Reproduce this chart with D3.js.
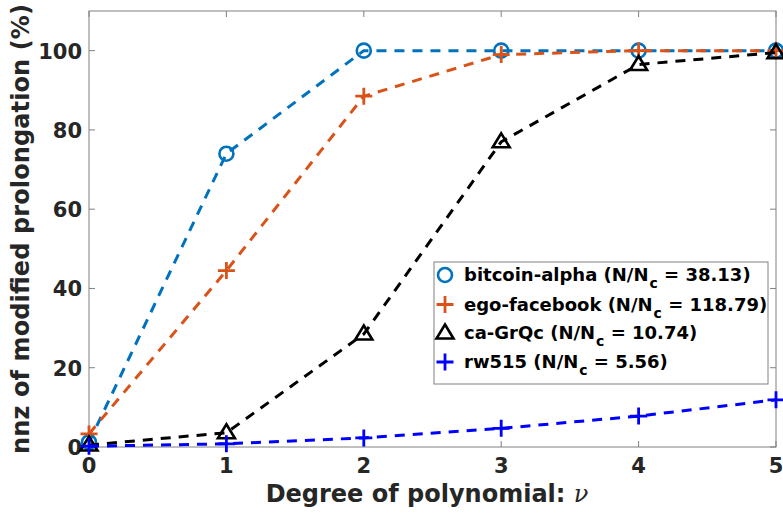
<!DOCTYPE html>
<html><head><meta charset="utf-8">
<script src="https://cdn.jsdelivr.net/npm/d3@7"></script>
<style>body{margin:0;background:#fff}svg{display:block}</style>
</head><body>
<svg id="c" width="783" height="513"></svg>
<script>
const degrees = [0, 1, 2, 3, 4, 5];
const bitcoinAlpha = [1.2, 74, 100, 100, 100, 100];
const egoFacebook = [3.3, 44.5, 88.5, 99, 100, 100];
const caGrQc = [0.5, 3.6, 28.5, 77, 96.5, 99.5];
const rw515 = [0.2, 0.8, 2.3, 4.7, 7.8, 11.9];
const xTicks = [0, 1, 2, 3, 4, 5];
const yTicks = [0, 20, 40, 60, 80, 100];
const seriesNames = ["bitcoin-alpha", "ego-facebook", "ca-GrQc", "rw515"];
const seriesRatios = ["38.13", "118.79", "10.74", "5.56"];

const series = [
  {name: seriesNames[0], ratio: seriesRatios[0], vals: bitcoinAlpha, color: "#0072BD", marker: "circle"},
  {name: seriesNames[1], ratio: seriesRatios[1], vals: egoFacebook, color: "#D95319", marker: "plus"},
  {name: seriesNames[2], ratio: seriesRatios[2], vals: caGrQc, color: "#000000", marker: "triangle"},
  {name: seriesNames[3], ratio: seriesRatios[3], vals: rw515, color: "#0000FF", marker: "plus"}
];

const svg = d3.select("#c");
const L = 89, R = 776, T = 11, B = 447;
const x = d3.scaleLinear().domain([0, 5]).range([L, R]);
const y = d3.scaleLinear().domain([0, 110]).range([B, T]);
const txt = "#262626", axc = "#808080";
const font = "'DejaVu Sans', sans-serif";

// axes box
svg.append("rect").attr("x", L).attr("y", T).attr("width", R - L).attr("height", B - T)
  .attr("fill", "none").attr("stroke", axc).attr("stroke-width", 1);

// ticks
const tl = 6;
xTicks.forEach(t => {
  svg.append("line").attr("x1", x(t)).attr("x2", x(t)).attr("y1", B).attr("y2", B - tl).attr("stroke", axc);
  svg.append("line").attr("x1", x(t)).attr("x2", x(t)).attr("y1", T).attr("y2", T + tl).attr("stroke", axc);
  svg.append("text").attr("x", x(t)).attr("y", 473).attr("text-anchor", "middle")
    .attr("font-family", font).attr("font-weight", "bold").attr("font-size", 21).attr("fill", txt).text(t);
});
yTicks.forEach(t => {
  svg.append("line").attr("x1", L).attr("x2", L + tl).attr("y1", y(t)).attr("y2", y(t)).attr("stroke", axc);
  svg.append("line").attr("x1", R).attr("x2", R - tl).attr("y1", y(t)).attr("y2", y(t)).attr("stroke", axc);
  svg.append("text").attr("x", L - 7).attr("y", y(t) + 8).attr("text-anchor", "end")
    .attr("font-family", font).attr("font-weight", "bold").attr("font-size", 21).attr("fill", txt).text(t);
});

// axis labels
const xl = svg.append("text").attr("x", 427).attr("y", 502).attr("text-anchor", "middle")
  .attr("font-family", font).attr("font-weight", "bold").attr("font-size", 24).attr("fill", txt);
xl.append("tspan").text("Degree of polynomial: ");
xl.append("tspan").attr("font-style", "italic").attr("font-weight", "normal").attr("font-family", "'DejaVu Serif', serif").text("ν");

svg.append("text").attr("transform", `translate(28.5,${(T + B) / 2}) rotate(-90)`).attr("text-anchor", "middle")
  .attr("font-family", font).attr("font-weight", "bold").attr("font-size", 24).attr("fill", txt)
  .attr("textLength", 450).attr("lengthAdjust", "spacing")
  .text("nnz of modified prolongation (%)");

function drawMarker(g, type, cx, cy, color) {
  if (type === "circle") {
    g.append("circle").attr("cx", cx).attr("cy", cy).attr("r", 7).attr("fill", "none").attr("stroke", color).attr("stroke-width", 2.6);
  } else if (type === "plus") {
    g.append("path").attr("d", `M${cx - 8.5},${cy}H${cx + 8.5}M${cx},${cy - 8.5}V${cy + 8.5}`).attr("stroke", color).attr("stroke-width", 2.8).attr("fill", "none");
  } else {
    g.append("path").attr("d", `M${cx},${cy - 8.5}L${cx + 8.5},${cy + 5.5}L${cx - 8.5},${cy + 5.5}Z`)
      .attr("stroke", color).attr("stroke-width", 2.6).attr("fill", "none").attr("stroke-linejoin", "miter");
  }
}

const line = d3.line().x((d, i) => x(degrees[i])).y(d => y(d));
const plot = svg.append("g");
series.forEach(s => {
  plot.append("path").datum(s.vals).attr("d", line).attr("fill", "none").attr("stroke", s.color)
    .attr("stroke-width", 3).attr("stroke-dasharray", "10,8");
  s.vals.forEach((v, i) => drawMarker(plot, s.marker, x(degrees[i]), y(v), s.color));
});

// legend
const lg = svg.append("g");
const lx = 434, ly = 262, lw = 334, lh = 122;
lg.append("rect").attr("x", lx).attr("y", ly).attr("width", lw).attr("height", lh)
  .attr("fill", "#fff").attr("stroke", axc).attr("stroke-width", 1);
const rowY = [275, 304.5, 333, 362];
series.forEach((s, i) => {
  const cy = rowY[i];
  drawMarker(lg, s.marker, lx + 11, cy, s.color);
  const t = lg.append("text").attr("x", lx + 30).attr("y", cy + 6)
    .attr("font-family", font).attr("font-weight", "bold").attr("font-size", 18).attr("fill", "#000");
  t.append("tspan").text(s.name + " (N/N");
  t.append("tspan").attr("font-size", 14).attr("dx", 1).attr("dy", 7).text("c");
  t.append("tspan").attr("dy", -7).text(" = " + s.ratio + ")");
});
</script>
</body></html>
